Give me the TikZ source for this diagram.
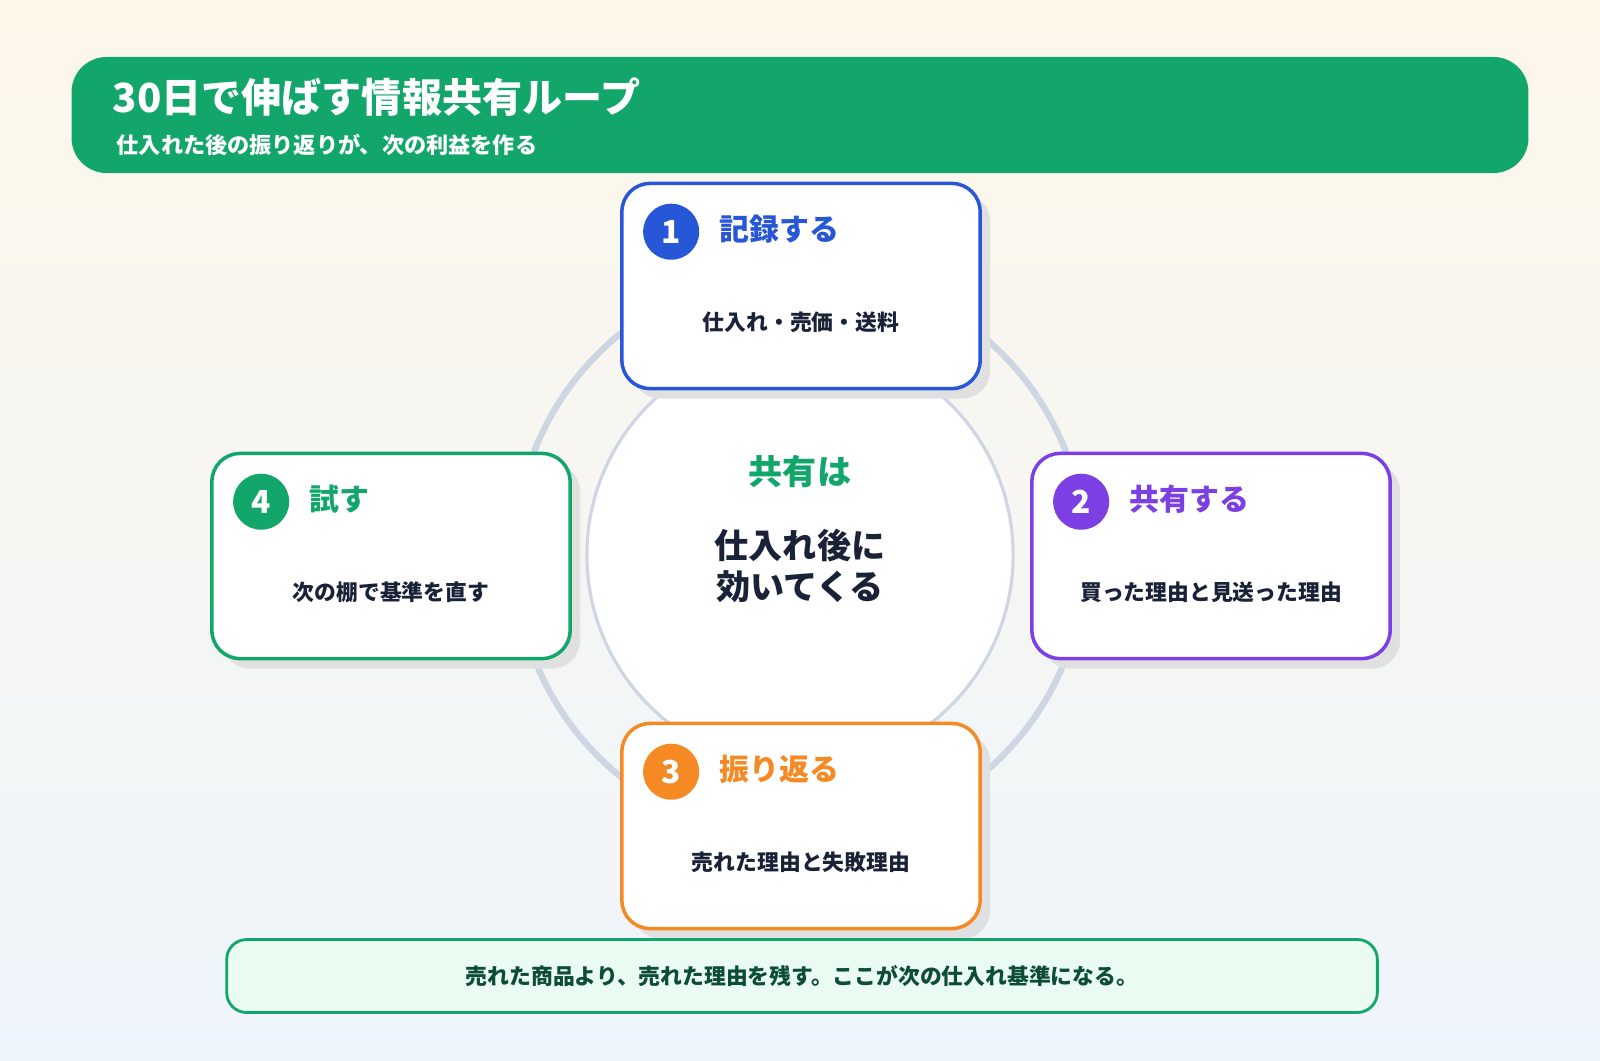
\documentclass[tikz,border=0pt]{standalone}
\usepackage{fontspec}
\setmainfont{Noto Sans CJK JP}
\usetikzlibrary{shadows}
\definecolor{bgtop}{HTML}{FEF7EA}
\definecolor{bgbot}{HTML}{EEF5FC}
\definecolor{gr}{HTML}{12A66B}
\definecolor{bl}{HTML}{2756D6}
\definecolor{pu}{HTML}{7B3FE4}
\definecolor{orr}{HTML}{F58A25}
\definecolor{ring}{HTML}{CDD6E2}
\definecolor{ink}{HTML}{1A2238}
\definecolor{notefill}{HTML}{EAFBF2}
\definecolor{noteink}{HTML}{0E4D35}
\newcommand{\fs}[1]{\fontsize{#1}{#1}\selectfont\bfseries}
\tikzset{
  stepbox/.style={draw=#1, line width=1pt, fill=white, rounded corners=8pt, minimum width=3.58cm, minimum height=2.05cm,
     drop shadow={shadow xshift=0.1cm, shadow yshift=-0.1cm, fill=black!12, opacity=1}},
  badge/.style={circle, fill=#1, minimum size=0.56cm, inner sep=0pt, text=white, font=\fs{9}},
  stitle/.style={anchor=west, inner sep=0pt, text=#1, font=\fs{8.5}},
  sbody/.style={text=ink, font=\fs{6.2}},
}
\begin{document}
\begin{tikzpicture}[x=0.01cm,y=-0.01cm]
\shade[top color=bgtop, bottom color=bgbot] (0,0) rectangle (1600,1060);
\useasboundingbox (0,0) rectangle (1600,1060);
% header
\node[fill=gr, rounded corners=0.35cm, minimum width=14.56cm, minimum height=1.16cm] (hdr) at (800,115) {};
\node[anchor=west, text=white, font=\fs{11.4}, inner sep=0] (ttl) at (112,97) {30日で伸ばす情報共有ループ};
\node[anchor=west, text=white, font=\fs{6.3}, inner sep=0] (sub) at (116,145) {仕入れた後の振り返りが、次の利益を作る};
% ring
\draw[ring, line width=1.8pt] (800,555) circle (2.85cm);
\node[circle, fill=white, draw=ring, line width=0.9pt, minimum size=4.26cm] (ctr) at (800,555) {};
\node[text=gr, font=\fs{9.7}] (c1) at (800,472) {共有は};
\node[text=ink, font=\fs{9.7}, align=center] (c2) at (800,566) {仕入れ後に\\[2pt]効いてくる};
% boxes
\foreach \nm/\cx/\cy/\col/\num/\ttl/\body in {
  b1/801/286/bl/1/記録する/仕入れ・売価・送料,
  b2/1211/556/pu/2/共有する/買った理由と見送った理由,
  b3/801/826/orr/3/振り返る/売れた理由と失敗理由,
  b4/391/556/gr/4/試す/次の棚で基準を直す}{
  \node[stepbox=\col] (\nm) at (\cx,\cy) {};
  \node[badge=\col] (\nm n) at ([xshift=0.51cm,yshift=-0.5cm]\nm.north west) {\num};
  \node[stitle=\col] (\nm t) at ([xshift=0.48cm,yshift=0.03cm]\nm n.center) {\ttl};
  \node[sbody] (\nm b) at ([yshift=-0.36cm]\nm.center) {\body};
}
% note
\node[draw=gr, line width=0.8pt, fill=notefill, rounded corners=0.2cm, minimum width=11.5cm, minimum height=0.73cm, text=noteink, font=\fs{6.2}] (note) at (802,976) {売れた商品より、売れた理由を残す。ここが次の仕入れ基準になる。};
\end{tikzpicture}
\end{document}
